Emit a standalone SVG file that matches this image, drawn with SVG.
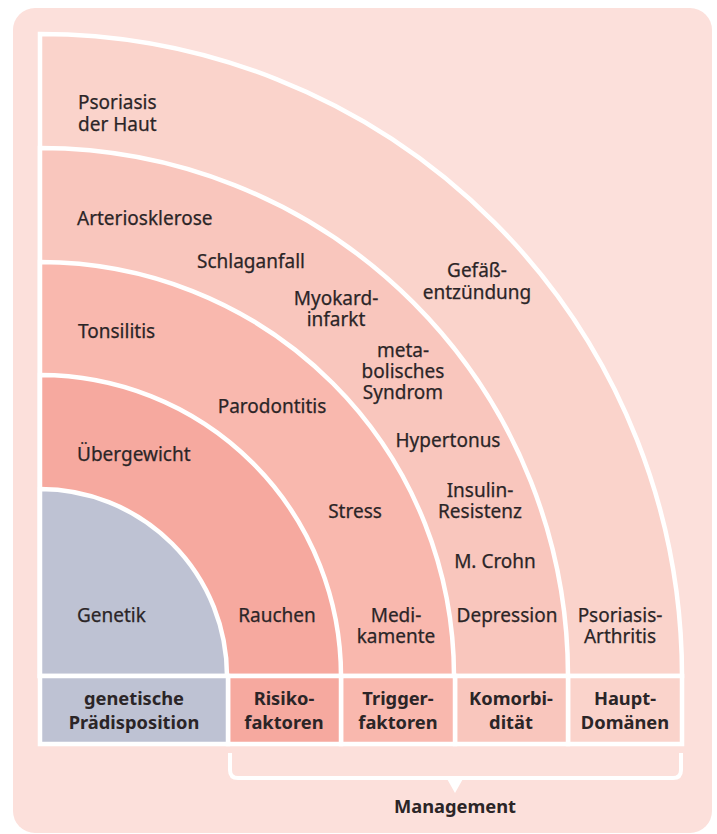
<svg xmlns="http://www.w3.org/2000/svg" width="717" height="834" viewBox="0 0 717 834">
<style>
.t{font-family:"Noto Sans","Liberation Sans",sans-serif;font-size:19px;fill:#2b2527;stroke:#2b2527;stroke-width:0.25}
.b{font-family:"Noto Sans","Liberation Sans",sans-serif;font-size:18.3px;font-weight:bold;fill:#2b2527}
.m{text-anchor:middle}
.band{stroke:#ffffff;stroke-width:4.5;stroke-linejoin:miter}
.cell{stroke:#ffffff;stroke-width:4.5}
</style>
<rect x="13" y="8" width="699" height="825" rx="22" fill="#fce0db"/>
<g id="haupt">
<path class="band" fill="#fad3cb" d="M40 676 L40 34 A642 642 0 0 1 682 676 Z"/>
<rect class="cell" x="568" y="676" width="114" height="68" fill="#fad3cb"/>
</g>
<g id="komorbi">
<path class="band" fill="#f9c6bd" d="M40 676 L40 148 A528 528 0 0 1 568 676 Z"/>
<rect class="cell" x="455" y="676" width="113" height="68" fill="#f9c6bd"/>
</g>
<g id="trigger">
<path class="band" fill="#f9b8ae" d="M40 676 L40 262 A414 414 0 0 1 454 676 Z"/>
<rect class="cell" x="341" y="676" width="114" height="68" fill="#f9b8ae"/>
</g>
<g id="risiko">
<path class="band" fill="#f6a99f" d="M40 676 L40 375 A301 301 0 0 1 341 676 Z"/>
<rect class="cell" x="228" y="676" width="113" height="68" fill="#f6a99f"/>
</g>
<g id="genetik">
<path class="band" fill="#bec2d3" d="M40 676 L40 489 A187 187 0 0 1 227 676 Z"/>
<rect class="cell" x="40" y="676" width="188" height="68" fill="#bec2d3"/>
</g>
<g id="texts-haupt">
<text class="t" x="78" y="109">Psoriasis</text>
<text class="t" x="78" y="131">der Haut</text>
<text class="t m" x="477" y="277">Gefäß-</text>
<text class="t m" x="477" y="299">entzündung</text>
<text class="t m" x="620" y="622">Psoriasis-</text>
<text class="t m" x="620" y="643">Arthritis</text>
<text class="b m" x="625" y="705">Haupt-</text>
<text class="b m" x="625" y="729">Domänen</text>
</g>
<g id="texts-komorbi">
<text class="t" x="77" y="225">Arteriosklerose</text>
<text class="t" x="197" y="268">Schlaganfall</text>
<text class="t m" x="336" y="305">Myokard-</text>
<text class="t m" x="336" y="326">infarkt</text>
<text class="t m" x="403" y="357">meta-</text>
<text class="t m" x="403" y="378">bolisches</text>
<text class="t m" x="403" y="399">Syndrom</text>
<text class="t m" x="448" y="447">Hypertonus</text>
<text class="t m" x="480" y="497">Insulin-</text>
<text class="t m" x="480" y="518">Resistenz</text>
<text class="t m" x="495" y="568">M. Crohn</text>
<text class="t m" x="507" y="622">Depression</text>
<text class="b m" x="511" y="705">Komorbi-</text>
<text class="b m" x="511" y="729">dität</text>
</g>
<g id="texts-trigger">
<text class="t" x="78" y="338">Tonsilitis</text>
<text class="t m" x="355" y="518">Stress</text>
<text class="t m" x="396" y="622">Medi-</text>
<text class="t m" x="396" y="643">kamente</text>
<text class="b m" x="398" y="705">Trigger-</text>
<text class="b m" x="398" y="729">faktoren</text>
</g>
<g id="texts-risiko">
<text class="t" x="77" y="461">Übergewicht</text>
<text class="t m" x="272" y="413">Parodontitis</text>
<text class="t m" x="277" y="622">Rauchen</text>
<text class="b m" x="284" y="705">Risiko-</text>
<text class="b m" x="284" y="729">faktoren</text>
</g>
<g id="texts-genetik">
<text class="t" x="77" y="622">Genetik</text>
<text class="b m" x="134" y="705">genetische</text>
<text class="b m" x="134" y="729">Prädisposition</text>
</g>
<g id="connectors">
<path d="M230 753 V770 Q230 778 238 778 H673 Q681 778 681 770 V753" fill="none" stroke="#ffffff" stroke-width="4"/>
<polygon points="446,777 464,777 455,793" fill="#ffffff"/>
</g>
<g id="management">
<text class="b m" x="455" y="813">Management</text>
</g>
</svg>
